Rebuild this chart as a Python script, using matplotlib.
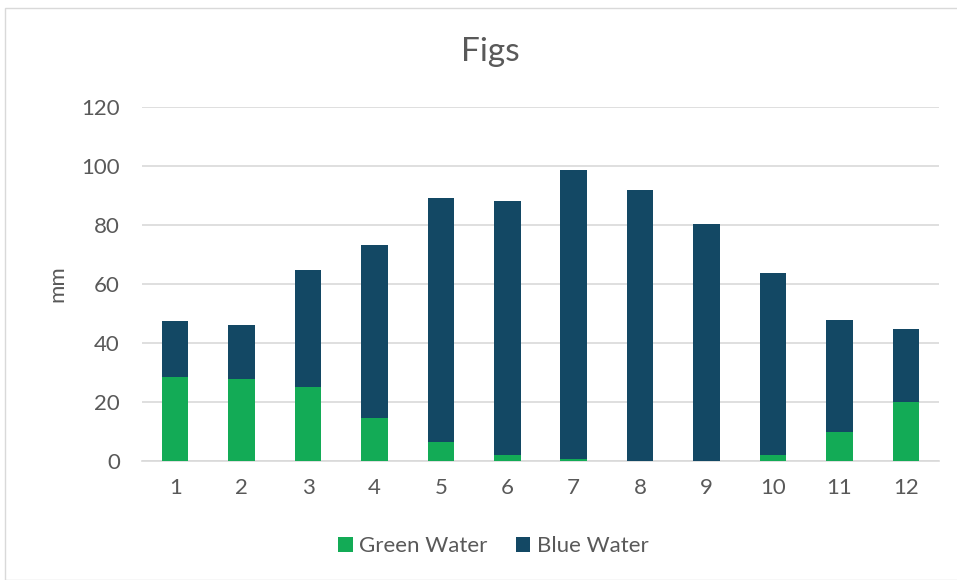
import matplotlib
matplotlib.use("Agg")
import matplotlib.pyplot as plt
import numpy as np
from matplotlib.patches import Rectangle

plt.rcParams["font.family"] = ["Lato", "DejaVu Sans"]

months = ["1", "2", "3", "4", "5", "6", "7", "8", "9", "10", "11", "12"]
green_water = [28.4, 27.8, 25.2, 14.7, 6.6, 1.9, 0.8, 0.0, 0.0, 2.1, 10.0, 20.0]
blue_water = [19.2, 18.4, 39.4, 58.6, 82.5, 86.1, 97.9, 92.0, 80.5, 61.7, 37.7, 24.9]

GREEN = "#13ab56"
BLUE = "#134864"
TEXT = "#595959"

fig = plt.figure(figsize=(9.57, 5.8), dpi=100)
ax = fig.add_axes([142 / 957, 1 - 461 / 580, (939 - 142) / 957, (461 - 107) / 580])

x = np.arange(len(months))
ax.bar(x, green_water, width=0.4, color=GREEN, label="Green Water", zorder=3)
ax.bar(x, blue_water, width=0.4, bottom=green_water, color=BLUE,
       label="Blue Water", zorder=3)

ax.set_xlim(-0.5, len(months) - 0.5)
ax.set_ylim(0, 120)
ax.set_yticks(range(0, 121, 20))
ax.set_xticks(x)
ax.set_xticklabels(months)
ax.yaxis.grid(True, color="#d9d9d9", linewidth=1.2, zorder=0)
for s in ["top", "right", "left"]:
    ax.spines[s].set_visible(False)
ax.spines["bottom"].set_color("#d9d9d9")
ax.spines["bottom"].set_linewidth(1.2)
ax.tick_params(axis="both", length=0, labelsize=16, colors=TEXT)
ax.tick_params(axis="x", pad=12)
ax.tick_params(axis="y", pad=16)

ax.set_ylabel("mm", fontsize=16, color=TEXT, labelpad=10)
fig.text(0.512, 1 - 52 / 580, "Figs", ha="center", va="center", fontsize=24, color=TEXT)

fig.legend(loc="center", bbox_to_anchor=(0.5157, 1 - 546 / 580), ncol=2, frameon=False,
           fontsize=16, labelcolor=TEXT, handlelength=0.64, handleheight=0.64,
           columnspacing=1.27, handletextpad=0.3)

# light chart-area border
fig.add_artist(Rectangle((5 / 957, 0.0), 1.2, 1 - 8 / 580, transform=fig.transFigure,
                         fill=False, edgecolor="#d9d9d9", linewidth=1.0))

fig.savefig("out.png", dpi=100, facecolor="white")
